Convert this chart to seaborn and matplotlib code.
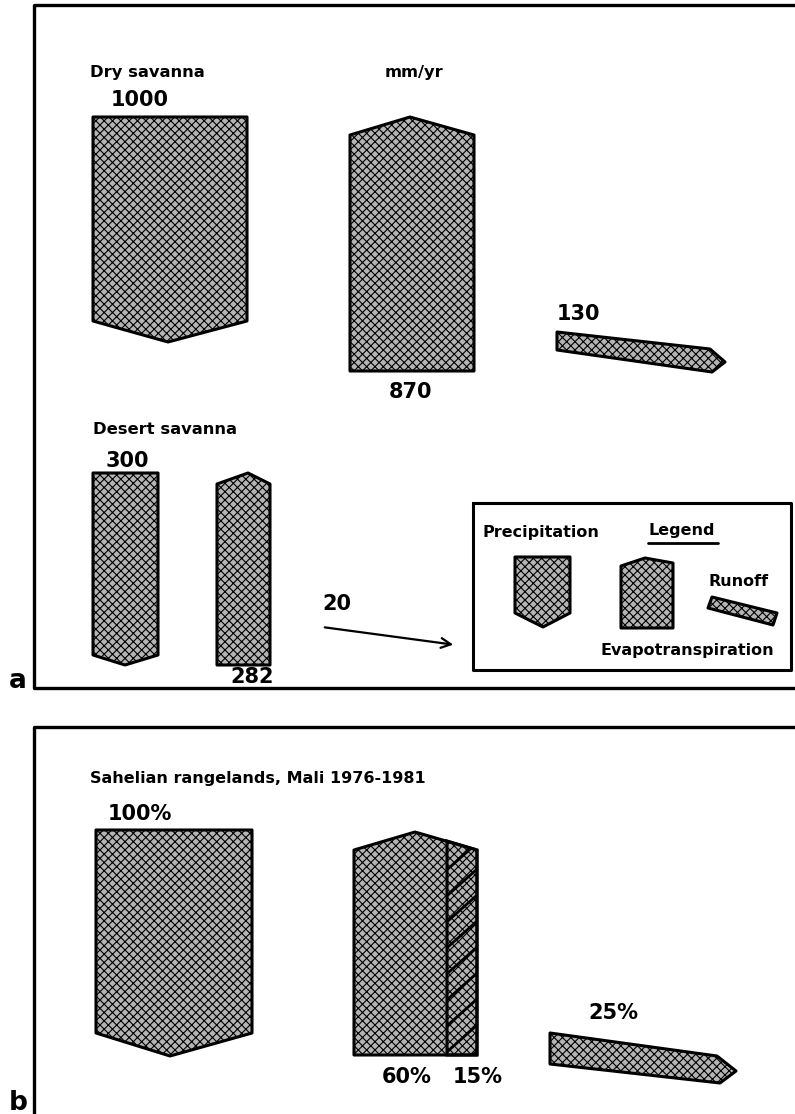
import matplotlib
matplotlib.use("Agg")
import matplotlib.pyplot as plt
from matplotlib.patches import Polygon
import seaborn as sns

sns.set_style("white")
plt.rcParams['font.family'] = ['DejaVu Sans']
plt.rcParams['text.color'] = 'black'
plt.rcParams['hatch.linewidth'] = 0.8

# values shown on the diagram
dry_values = [1000, 870, 130]          # precipitation, evapotranspiration, runoff (mm/yr)
desert_values = [300, 282, 20]
sahel_pct = [100, 60, 15, 25]          # precipitation, evap, evap (hatched part), runoff
titles = ["Dry savanna", "Desert savanna", "Sahelian rangelands, Mali 1976-1981"]
legend_names = ["Precipitation", "Evapotranspiration", "Runoff"]

# shape outlines in pixel space (layout only)
shapes = {
    "dry_p": [(93, 117), (247, 117), (247, 321), (168, 342), (93, 321)],
    "dry_e": [(350, 135), (410, 117), (474, 135), (474, 371), (350, 371)],
    "dry_r": [(557, 332), (710, 349), (725, 362), (712, 372), (557, 350)],
    "des_p": [(93, 473), (158, 473), (158, 655), (125, 665), (93, 655)],
    "des_e": [(217, 484), (248, 473), (270, 484), (270, 665), (217, 665)],
    "leg_p": [(515, 557), (570, 557), (570, 613), (543, 627), (515, 613)],
    "leg_e": [(621, 566), (645, 558), (673, 563), (673, 628), (621, 628)],
    "leg_r": [(712, 597), (777, 613), (773, 625), (708, 608)],
    "sah_p": [(96, 830), (252, 830), (252, 1033), (170, 1056), (96, 1033)],
    "sah_e": [(354, 850), (415, 832), (477, 850), (477, 1055), (354, 1055)],
    "sah_r": [(550, 1033), (717, 1056), (736, 1071), (720, 1083), (550, 1064)],
}
hatched_part = [(447, 841), (477, 850), (477, 1055), (447, 1055)]

fig = plt.figure(figsize=(7.95, 11.14), dpi=100)
ax = fig.add_axes([0, 0, 1, 1])
ax.set_xlim(0, 795)
ax.set_ylim(1114, 0)
ax.axis("off")

for key, pts in shapes.items():
    ax.add_patch(Polygon(pts, closed=True, facecolor="#b4b4b4", edgecolor="black",
                         hatch="xxxx", linewidth=2.2, joinstyle="round"))

# hatched portion of the Sahelian evapotranspiration
hp = Polygon(hatched_part, closed=True, facecolor="none", edgecolor="black", linewidth=2.2)
ax.add_patch(hp)
for k in range(-10, 12):
    y0 = 862 + k * 26
    ln, = ax.plot([440, 485], [y0 + 40, y0], color="black", lw=2.0)
    ln.set_clip_path(hp)

# frames
ax.plot([795, 34, 34, 795], [5, 5, 688, 688], color="black", lw=2.4)
ax.plot([795, 34, 34], [727, 727, 1114], color="black", lw=2.4)
ax.plot([473, 791, 791, 473, 473], [503, 503, 670, 670, 503], color="black", lw=2.2)

lab = dict(fontsize=11.8, fontweight="bold", va="center")
num = dict(fontsize=15, fontweight="bold", va="center")

ax.text(18, 681, "a", fontsize=19, fontweight="bold", ha="center", va="center")
ax.text(18, 1103, "b", fontsize=19, fontweight="bold", ha="center", va="center")

ax.text(90, 73, titles[0], ha="left", **lab)
ax.text(385, 73, "mm/yr", ha="left", **lab)
ax.text(140, 100, f"{dry_values[0]}", ha="center", **num)
ax.text(410, 392, f"{dry_values[1]}", ha="center", **num)
ax.text(557, 314, f"{dry_values[2]}", ha="left", **num)

ax.text(93, 430, titles[1], ha="left", **lab)
ax.text(127, 461, f"{desert_values[0]}", ha="center", **num)
ax.text(252, 677, f"{desert_values[1]}", ha="center", **num)
ax.text(322, 604, f"{desert_values[2]}", ha="left", **num)
ax.annotate("", xy=(456, 645), xytext=(322, 627),
            arrowprops=dict(arrowstyle="->,head_length=0.7,head_width=0.35", color="black", lw=1.6))

ax.text(483, 533, legend_names[0], ha="left", fontsize=11.5, fontweight="bold", va="center")
ax.text(648, 530, "Legend", ha="left", fontsize=11.5, fontweight="bold", va="center")
ax.plot([648, 718], [543, 543], color="black", lw=2.0)
ax.text(708, 582, legend_names[2], ha="left", fontsize=11.5, fontweight="bold", va="center")
ax.text(600, 651, legend_names[1], ha="left", fontsize=11.5, fontweight="bold", va="center")

ax.text(90, 778, titles[2], ha="left", fontsize=11.5, fontweight="bold", va="center")
ax.text(140, 814, f"{sahel_pct[0]}%", ha="center", **num)
ax.text(407, 1077, f"{sahel_pct[1]}%", ha="center", **num)
ax.text(453, 1077, f"{sahel_pct[2]}%", ha="left", **num)
ax.text(613, 1013, f"{sahel_pct[3]}%", ha="center", **num)

fig.savefig("out.png", dpi=100)
